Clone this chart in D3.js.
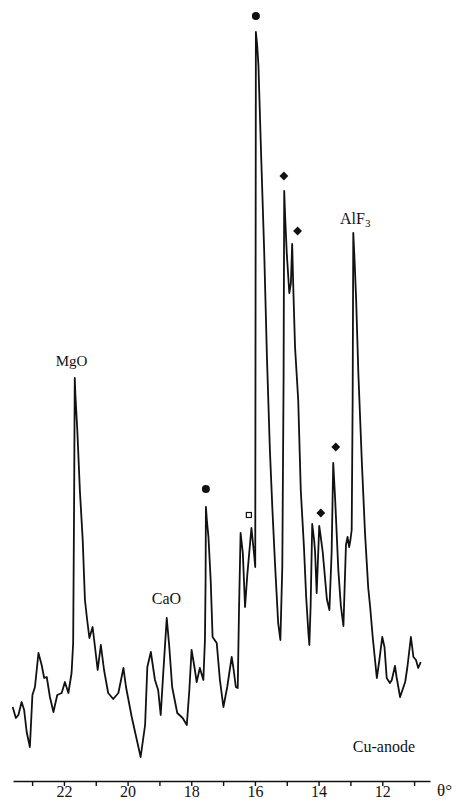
<!doctype html>
<html>
<head>
<script src="https://cdnjs.cloudflare.com/ajax/libs/d3/7.8.5/d3.min.js"></script>
<style>
body { margin: 0; background: #fff; }
svg { display: block; }
text { font-family: "Liberation Serif", "DejaVu Serif", serif; fill: #111; }
</style>
</head>
<body>
<svg id="chart" width="457" height="809"></svg>
<script>
// diffraction trace: theta (deg) and intensity (arb. units)
var theta = [23.61,23.51,23.43,23.33,23.25,23.17,23.07,22.99,22.91,22.80,22.70,22.62,22.54,22.44,22.33,22.21,22.07,21.97,21.86,21.76,
  21.71,21.68,21.66,21.64,21.58,21.50,21.41,21.34,21.27,21.20,21.10,21.05,20.94,20.84,20.74,20.61,20.45,20.29,20.13,20.05,
  19.87,19.71,19.59,19.45,19.38,19.27,19.14,19.04,18.96,18.88,18.77,18.69,18.60,18.44,18.27,18.14,18.06,17.99,17.90,17.83,
  17.73,17.62,17.57,17.55,17.54,17.51,17.46,17.39,17.33,17.20,17.10,16.99,16.87,16.73,16.68,16.60,16.54,16.50,16.45,16.38,
  16.31,16.24,16.11,16.03,15.99,15.98,15.97,15.93,15.89,15.81,15.71,15.62,15.53,15.45,15.37,15.27,15.20,15.14,15.10,15.08,
  15.05,15.00,14.92,14.87,14.83,14.79,14.74,14.64,14.56,14.46,14.39,14.32,14.29,14.25,14.20,14.14,14.11,14.06,14.02,13.98,
  13.94,13.87,13.74,13.66,13.59,13.54,13.48,13.38,13.30,13.22,13.14,13.09,13.04,13.00,12.96,12.93,12.91,12.87,12.82,12.75,
  12.64,12.54,12.44,12.38,12.30,12.17,12.09,12.00,11.93,11.86,11.76,11.70,11.60,11.55,11.44,11.28,11.21,11.10,11.02,10.94,
  10.87,10.79];
var intensity = [73,62,65,78,70,48,33,85,93,127,115,102,103,83,68,85,87,98,87,107,
  137,280,402,385,350,290,240,180,160,142,153,140,110,135,110,87,81,87,112,93,
  63,40,23,55,113,128,100,90,65,107,162,133,93,67,62,55,90,130,113,98,
  112,100,140,200,273,260,243,200,143,137,100,73,93,123,113,93,92,170,247,227,
  173,205,252,227,213,480,748,735,715,630,530,420,330,270,217,157,140,213,400,589,
  563,527,487,497,536,487,433,380,290,233,183,147,135,174,256,240,228,187,220,254,
  245,228,181,170,228,317,281,210,174,154,235,243,233,240,250,380,547,520,480,406,
  317,246,192,173,143,102,120,143,133,102,97,100,114,103,83,98,113,143,123,120,
  112,118];

// peak markers
var dotTheta = [15.97, 17.54], dotInt = [764, 291];
var diamondTheta = [15.09, 14.66, 13.93, 13.46], diamondInt = [604, 549, 267, 333];
var squareTheta = [16.19], squareInt = [265];

// phase labels
var labelText = ["MgO", "CaO", "AlF"], labelTheta = [21.76, 18.78, 12.85], labelInt = [414, 176, 556];

var ticks = d3.range(11, 24);

var svg = d3.select("#chart");
var x = d3.scaleLinear().domain([23.6, 10.5]).range([13, 430]);
var y = d3.scaleLinear().domain([0, 780]).range([780, 0]);

var pts = theta.map((t, i) => [t, intensity[i]]);
var line = d3.line().x(d => x(d[0])).y(d => y(d[1]));

svg.append("path")
  .datum(pts)
  .attr("d", line)
  .attr("fill", "none")
  .attr("stroke", "#111")
  .attr("stroke-width", 1.8)
  .attr("stroke-linejoin", "round");

svg.selectAll("circle.dot")
  .data(dotTheta)
  .enter().append("circle")
  .attr("class", "dot")
  .attr("cx", d => x(d))
  .attr("cy", (d, i) => y(dotInt[i]))
  .attr("r", 4)
  .attr("fill", "#111");

svg.selectAll("path.diamond")
  .data(diamondTheta)
  .enter().append("path")
  .attr("class", "diamond")
  .attr("d", d3.symbol().type(d3.symbolDiamond2).size(50))
  .attr("transform", (d, i) => "translate(" + x(d) + "," + y(diamondInt[i]) + ")")
  .attr("fill", "#111");

svg.selectAll("rect.sq")
  .data(squareTheta)
  .enter().append("rect")
  .attr("class", "sq")
  .attr("x", d => x(d) - 2.5)
  .attr("y", (d, i) => y(squareInt[i]) - 2.5)
  .attr("width", 5).attr("height", 5)
  .attr("fill", "#fff").attr("stroke", "#111").attr("stroke-width", 1.2);

var lab = svg.selectAll("text.lab")
  .data(labelText)
  .enter().append("text")
  .attr("class", "lab")
  .attr("x", (d, i) => x(labelTheta[i]))
  .attr("y", (d, i) => y(labelInt[i]))
  .attr("text-anchor", "middle")
  .style("font-size", (d, i) => i == 0 ? "15px" : "16px")
  .text(d => d);
lab.filter(d => d == "AlF").append("tspan")
  .attr("dy", 3).style("font-size", "11px").text("3");

svg.append("text")
  .attr("x", 415).attr("y", 752)
  .attr("text-anchor", "end")
  .style("font-size", "16px")
  .text("Cu-anode");

var axis = d3.axisBottom(x)
  .tickValues(ticks)
  .tickSize(5)
  .tickSizeOuter(0)
  .tickPadding(0)
  .tickFormat(d => d % 2 == 0 ? d : "");

var g = svg.append("g").attr("transform", "translate(0,781)").call(axis);
g.select(".domain").attr("stroke", "#111").attr("stroke-width", 1.6);
g.selectAll(".tick line").attr("stroke", "#111").attr("stroke-width", 1.4);
g.selectAll(".tick text")
  .style("font-size", "16px")
  .style("font-family", "Liberation Serif")
  .attr("fill", "#111");

svg.append("text")
  .attr("x", 437).attr("y", 796)
  .style("font-size", "17px")
  .text("θ°");
</script>
</body>
</html>
